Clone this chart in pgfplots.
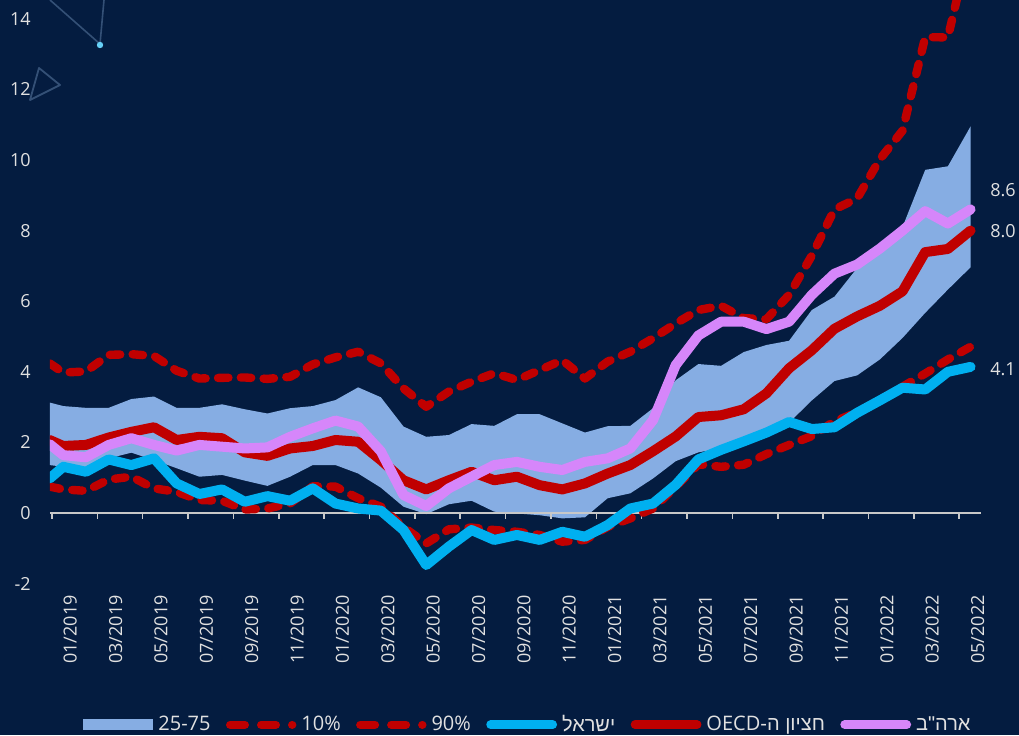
\documentclass[border=0pt]{standalone}
\usepackage{fontspec}
\setmainfont{Open Sans}
\newfontfamily\hebfont[Script=Hebrew]{Liberation Sans}
\usepackage{pgfplots}
\usepackage{pgfplotstable}
\pgfplotsset{compat=1.18}
\TeXXeTstate=1

\definecolor{bg}{RGB}{4,28,64}
\definecolor{band}{RGB}{134,173,227}
\definecolor{oecdred}{RGB}{192,0,0}
\definecolor{israel}{RGB}{0,176,240}
\definecolor{usa}{RGB}{214,134,250}
\definecolor{txt}{RGB}{225,225,225}
\definecolor{axgray}{RGB}{200,200,200}
\definecolor{deco}{RGB}{52,80,118}

% monthly values, x = 0 is 01/2019; x = -0.6 is the left edge of the plot
\pgfplotstableread{
x    lo    up    p10   p90   isr   oecd  usa
-0.6 1.36  3.13  0.75  4.24  0.98  2.07  1.95
0    1.31  3.03  0.67  3.98  1.31  1.90  1.64
1    1.31  2.98  0.63  4.01  1.17  1.93  1.58
2    1.55  2.98  0.95  4.48  1.52  2.14  1.93
3    1.71  3.23  1.03  4.50  1.36  2.30  2.12
4    1.50  3.30  0.70  4.45  1.55  2.43  1.93
5    1.27  2.98  0.60  4.03  0.84  2.07  1.77
6    1.03  2.98  0.37  3.81  0.54  2.16  1.93
7    1.08  3.08  0.35  3.83  0.67  2.12  1.88
8    0.92  2.94  0.10  3.84  0.32  1.72  1.83
9    0.77  2.82  0.13  3.80  0.48  1.62  1.86
10   1.03  2.97  0.27  3.86  0.35  1.83  2.16
11   1.36  3.03  0.76  4.21  0.70  1.90  2.40
12   1.36  3.20  0.75  4.41  0.27  2.07  2.62
13   1.12  3.56  0.42  4.57  0.13  2.02  2.45
14   0.72  3.28  0.18  4.24  0.07  1.50  1.75
15   0.18  2.45 -0.40  3.53 -0.48  0.93  0.51
16  -0.03  2.16 -0.86  3.01 -1.47  0.67  0.20
17   0.25  2.21 -0.46  3.44 -0.95  0.93  0.70
18   0.35  2.52 -0.41  3.72 -0.48  1.17  1.03
19   0.04  2.47 -0.48  3.96 -0.76  0.93  1.36
20  -0.01  2.80 -0.53  3.77 -0.62  1.03  1.45
21  -0.06  2.80 -0.62  4.05 -0.76  0.79  1.31
22  -0.15  2.54 -0.81  4.33 -0.53  0.67  1.22
23  -0.12  2.28 -0.76  3.81 -0.67  0.84  1.45
24   0.42  2.46 -0.39  4.29 -0.34  1.12  1.55
25   0.56  2.47 -0.15  4.57  0.13  1.36  1.83
26   0.98  2.97  0.13  4.95  0.27  1.75  2.63
27   1.47  3.76  0.75  5.37  0.80  2.17  4.19
28   1.72  4.22  1.38  5.75  1.52  2.72  5.03
29   1.84  4.17  1.31  5.87  1.79  2.77  5.42
30   2.00  4.56  1.37  5.52  2.03  2.94  5.42
31   2.29  4.76  1.67  5.49  2.28  3.39  5.21
32   2.56  4.88  1.93  6.18  2.58  4.10  5.42
33   3.19  5.75  2.18  7.29  2.38  4.61  6.18
34   3.74  6.13  2.60  8.60  2.43  5.22  6.78
35   3.90  6.94  2.85  8.91  2.84  5.57  7.04
36   4.35  7.49  3.20 10.02  3.19  5.87  7.49
37   4.96  8.10  3.58 10.83  3.55  6.28  8.00
38   5.67  9.72  3.95 13.48  3.50  7.39  8.55
39   6.33  9.82  4.35 13.47  4.00  7.48  8.20
40   6.96 10.95  4.71 16.20  4.14  8.00  8.60
}\infl

\begin{document}
\begin{tikzpicture}[font=\fontsize{9}{10.8}\selectfont]
% background and the faint decoration in the corner
\fill[bg] (-25pt,-70pt) rectangle (484.5pt,297.5pt);
\draw[deco, line width=0.8pt] (0pt,297.5pt) -- (25pt,275.5pt) -- (27pt,297.5pt);
\fill[israel!60!white] (25pt,275pt) circle (1.6pt);
\draw[deco, line width=0.9pt, line join=round] (-5.5pt,263.5pt) -- (5pt,255pt) -- (-10pt,247.5pt) -- cycle;

\begin{axis}[
    scale only axis,
    width=465.5pt, height=297.5pt,
    xmin=-0.586, xmax=40.46,
    ymin=-2.32, ymax=14.53,
    axis line style={draw=none},
    major tick length=0pt,
    clip mode=individual,
    xtick={0,2,...,40},
    xticklabels={01/2019,03/2019,05/2019,07/2019,09/2019,11/2019,01/2020,03/2020,05/2020,07/2020,09/2020,11/2020,01/2021,03/2021,05/2021,07/2021,09/2021,11/2021,01/2022,03/2022,05/2022},
    xticklabel style={rotate=90, anchor=east, inner sep=0pt, yshift=-3.5pt},
    ytick={-2,0,...,14},
    yticklabel style={anchor=east, inner sep=0pt, xshift=-9.5pt},
    tick label style={text=txt},
    /pgf/number format/assume math mode=true,
    legend columns=6,
    legend style={draw=none, fill=none, text=txt,
        at={(axis description cs:0.515,-0.218)}, anchor=center,
        /tikz/every even column/.append style={column sep=5.2pt},
        nodes={inner sep=2.5pt}, font=\fontsize{10}{12}\selectfont},
    every axis plot/.append style={line join=round},
    solid line/.style={line width=5pt, line cap=round,
        legend image code/.code={\draw[##1, line width=4.4pt] (0pt,0pt) -- (31pt,0pt);}},
    dash line/.style={oecdred, line width=4.2pt, line cap=round,
        dash pattern=on 5.2pt off 6.2pt,
        legend image code/.code={\draw[##1, dash pattern=on 7.3pt off 8.2pt] (0pt,0pt) -- (31pt,0pt);}},
  ]
  % 25-75 band: lower edge, then the width of the band stacked on it
  \addplot[draw=none, stack plots=y, forget plot] table[x=x, y=lo] {\infl};
  \addplot[fill=band, draw=none, stack plots=y,
    legend image code/.code={\fill[band] (0pt,-2.75pt) rectangle (35pt,2.75pt);}]
    table[x=x, y expr=\thisrow{up}-\thisrow{lo}] {\infl} \closedcycle;
  \addlegendentry{25-75}

  % the zero line with its ticks between the months
  \draw[axgray, line width=1pt] (axis cs:-0.586,0) -- (axis cs:40.46,0);
  \pgfplotsinvokeforeach{-0.5,1.5,...,39.5}{
    \draw[axgray, line width=0.8pt] (axis cs:#1,0) -- ++(0pt,-3pt);
  }

  \addplot[dash line] table[x=x, y=p10] {\infl};
  \addlegendentry{10\%}
  \addplot[dash line] table[x=x, y=p90] {\infl};
  \addlegendentry{90\%}
  \addplot[solid line, israel] table[x=x, y=isr] {\infl};
  \addlegendentry{\hebfont\beginR ישראל\endR}
  \addplot[solid line, oecdred] table[x=x, y=oecd] {\infl};
  \addlegendentry{\beginR{\hebfont חציון ה-}\beginL OECD\endL\endR}
  \addplot[solid line, usa] table[x=x, y=usa] {\infl};
  \addlegendentry{\hebfont\beginR ארה"ב\endR}
\end{axis}

% last values
\node[anchor=west, inner sep=0pt, text=txt] at (470pt,202.5pt) {8.6};
\node[anchor=west, inner sep=0pt, text=txt] at (470pt,182pt) {8.0};
\node[anchor=west, inner sep=0pt, text=txt] at (470pt,113pt) {4.1};

\pgfresetboundingbox
\path (-25pt,-70pt) rectangle (484.5pt,297.5pt);
\end{tikzpicture}
\end{document}
